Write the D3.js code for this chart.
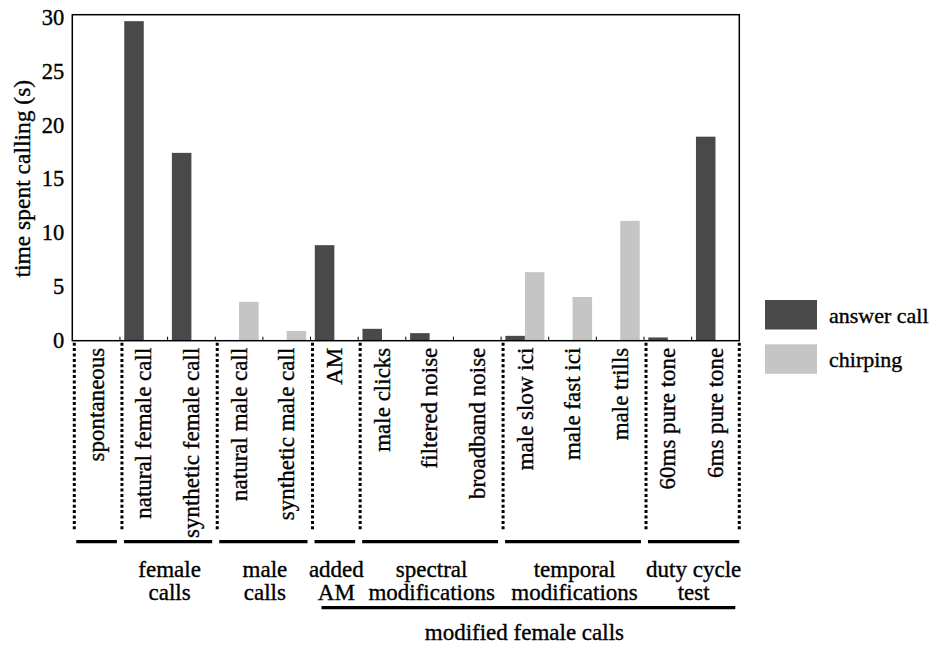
<!DOCTYPE html>
<html>
<head>
<meta charset="utf-8">
<script src="https://cdn.jsdelivr.net/npm/d3@7"></script>
<style>
  body { margin: 0; background: #fff; }
  svg text { font-family: "Liberation Serif", "Times New Roman", Times, serif !important;
             fill: #000; stroke: #000; stroke-width: 0.35px; }
</style>
</head>
<body>
<svg id="chart" width="939" height="645" font-family="Liberation Serif, serif"></svg>
<script>
// stimulus categories, left to right
const categories = [
  "spontaneous", "natural female call", "synthetic female call",
  "natural male call", "synthetic male call", "AM",
  "male clicks", "filtered noise", "broadband noise",
  "male slow ici", "male fast ici", "male trills",
  "60ms pure tone", "6ms pure tone"
];
// time spent calling (s)
const answerCall = [0, 29.6, 17.4, 0, 0, 8.85, 1.1, 0.7, 0, 0.45, 0, 0, 0.3, 18.9];
const chirping   = [0, 0, 0, 3.6, 0.9, 0, 0, 0, 0, 6.35, 4.05, 11.1, 0, 0];
const yTicks = [0, 5, 10, 15, 20, 25, 30];

// groups under the axis (number of categories in each)
const groupSizes  = [1, 2, 2, 1, 3, 3, 2];
const groupLabels = [[], ["female", "calls"], ["male", "calls"], ["added", "AM"],
                     ["spectral", "modifications"], ["temporal", "modifications"],
                     ["duty cycle", "test"]];
const superLabel = "modified female calls";
const superFrom = 3, superTo = 6;   // group indices covered

const seriesNames = ["answer call", "chirping"];
const colors = ["#494949", "#c5c5c5"];

const svg = d3.select("#chart");
const margin = { top: 14.7, left: 72.3, right: 939 - 739.3, bottom: 645 - 340.7 };
const width = 939 - margin.left - margin.right;
const height = 645 - margin.top - margin.bottom;

const g = svg.append("g").attr("transform", `translate(${margin.left},${margin.top})`);

const x0 = d3.scaleBand().domain(categories).range([0, width]);
const x1 = d3.scaleBand().domain(seriesNames).range([0, x0.bandwidth()]).paddingOuter(0.22);
const y = d3.scaleLinear().domain([0, 30.2]).range([height, 0]);

// bars
const rows = categories.map((c, i) => ({ cat: c, vals: [answerCall[i], chirping[i]] }));
g.selectAll(".cat")
  .data(rows)
  .join("g")
  .attr("transform", d => `translate(${x0(d.cat)},0)`)
  .selectAll("rect")
  .data(d => d.vals.map((v, k) => ({ key: seriesNames[k], v: v, k: k })))
  .join("rect")
  .attr("x", d => x1(d.key))
  .attr("width", x1.bandwidth())
  .attr("y", d => y(d.v))
  .attr("height", d => height - y(d.v))
  .attr("fill", d => colors[d.k]);

// y axis
const yAxis = g.append("g")
  .call(d3.axisLeft(y).tickValues(yTicks).tickSize(0).tickPadding(8))
  .attr("font-family", null).attr("font-size", null);
yAxis.select(".domain").remove();
yAxis.selectAll("text").style("font-size", "22.5px");

// small inward ticks at category boundaries
const bounds = d3.range(1, categories.length).map(i => i * x0.step());
g.selectAll(".xtick")
  .data(bounds)
  .join("line")
  .attr("x1", d => d).attr("x2", d => d)
  .attr("y1", height).attr("y2", height - 4)
  .attr("stroke", "#000").attr("stroke-width", 1);

// frame
g.append("rect")
  .attr("width", width).attr("height", height)
  .attr("fill", "none").attr("stroke", "#000").attr("stroke-width", 1.5);

// y title
svg.append("text")
  .attr("transform", `translate(22,${margin.top + height / 2 + 1}) rotate(-90)`)
  .attr("text-anchor", "middle")
  .attr("dy", "0.35em")
  .style("font-size", "23.5px")
  .text("time spent calling (s)");

// category labels, rotated
g.selectAll(".catlabel")
  .data(categories)
  .join("text")
  .attr("transform", d => `translate(${x0(d) + x0.bandwidth() / 2},${height + 7}) rotate(-90)`)
  .attr("text-anchor", "end")
  .attr("dy", "0.33em")
  .style("font-size", "23px")
  .text(d => d);

// group boundaries
const starts = [];
let acc = 0;
groupSizes.forEach(n => { starts.push(acc); acc += n; });
const groupsTbl = groupSizes.map((n, i) => ({
  x0: starts[i] * x0.step(),
  x1: (starts[i] + n) * x0.step(),
  label: groupLabels[i]
}));
const edgeXs = [0].concat(groupsTbl.map(d => d.x1));

g.selectAll(".dotline")
  .data(edgeXs)
  .join("line")
  .attr("x1", (d, i) => i === edgeXs.length - 1 ? d : d + 2)
  .attr("x2", (d, i) => i === edgeXs.length - 1 ? d : d + 2)
  .attr("y1", height + 2).attr("y2", height + 191)
  .attr("stroke", "#000").attr("stroke-width", 3)
  .attr("stroke-dasharray", "3,2.4");

g.selectAll(".gline")
  .data(groupsTbl)
  .join("line")
  .attr("x1", d => d.x0 + 4).attr("x2", (d, i) => i === groupsTbl.length - 1 ? d.x1 : d.x1 - 3)
  .attr("y1", height + 201).attr("y2", height + 201)
  .attr("stroke", "#000").attr("stroke-width", 3.2);

const glab = g.selectAll(".glabel")
  .data(groupsTbl)
  .join("text")
  .attr("text-anchor", "middle")
  .attr("transform", d => `translate(${(d.x0 + d.x1) / 2 + 2},${height + 236})`)
  .style("font-size", "23px");
glab.selectAll("tspan")
  .data(d => d.label)
  .join("tspan")
  .attr("x", 0)
  .attr("y", (d, i) => i * 23)
  .text(d => d);

// modified female calls bracket
const sx0 = groupsTbl[superFrom].x0 + 11;
const sx1 = groupsTbl[superTo].x1 - 4;
g.append("line")
  .attr("x1", sx0).attr("x2", sx1)
  .attr("y1", height + 267).attr("y2", height + 267)
  .attr("stroke", "#000").attr("stroke-width", 3.2);
g.append("text")
  .attr("x", (sx0 + sx1) / 2 - 4)
  .attr("y", height + 299)
  .attr("text-anchor", "middle")
  .style("font-size", "23px")
  .text(superLabel);

// legend
const legend = svg.append("g").attr("transform", "translate(765,300)");
const li = legend.selectAll("g")
  .data(seriesNames)
  .join("g")
  .attr("transform", (d, i) => `translate(0,${i * 44.3})`);
li.append("rect")
  .attr("width", 52).attr("height", 29.5)
  .attr("fill", (d, i) => colors[i]);
li.append("text")
  .attr("x", 64).attr("y", 23)
  .style("font-size", "22px")
  .text(d => d);
</script>
</body>
</html>
